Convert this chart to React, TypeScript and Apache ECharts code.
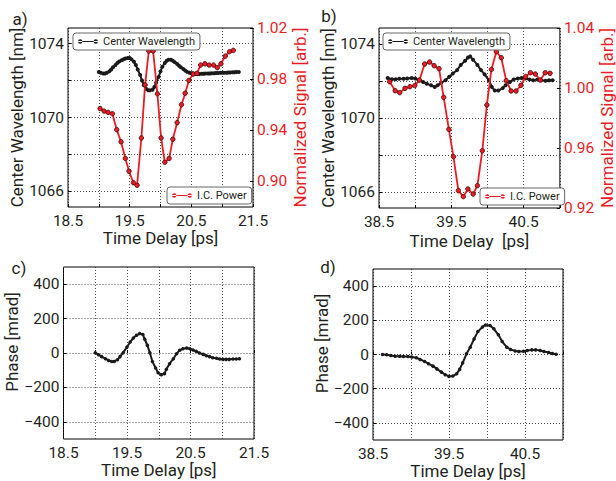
import React, { useEffect, useRef } from "react";
import * as echarts from "echarts";

const RED = "#ed1c24";
const INK = "#231f20";
const FONT = "Roboto";

// Panel a: center wavelength [nm] vs time delay [ps]
const wavelengthA: number[][] = [
  [19.0, 1072.47], [19.03, 1072.42], [19.07, 1072.38], [19.1, 1072.38], [19.13, 1072.42],
  [19.17, 1072.5], [19.2, 1072.6], [19.23, 1072.72], [19.27, 1072.85], [19.3, 1072.95],
  [19.33, 1073.03], [19.37, 1073.1], [19.4, 1073.15], [19.43, 1073.2], [19.47, 1073.22],
  [19.5, 1073.22], [19.53, 1073.15], [19.57, 1073.02], [19.6, 1072.85], [19.63, 1072.6],
  [19.67, 1072.3], [19.7, 1072.0], [19.73, 1071.75], [19.77, 1071.55], [19.8, 1071.48],
  [19.83, 1071.47], [19.87, 1071.5], [19.9, 1071.65], [19.93, 1071.9], [19.97, 1072.2],
  [20.0, 1072.5], [20.03, 1072.75], [20.07, 1072.95], [20.1, 1073.07], [20.13, 1073.13],
  [20.17, 1073.13], [20.2, 1073.08], [20.23, 1073.0], [20.27, 1072.9], [20.3, 1072.8],
  [20.33, 1072.72], [20.37, 1072.63], [20.4, 1072.55], [20.43, 1072.48], [20.47, 1072.43],
  [20.5, 1072.4], [20.53, 1072.38], [20.57, 1072.36], [20.6, 1072.35], [20.63, 1072.36],
  [20.67, 1072.37], [20.7, 1072.37], [20.73, 1072.38], [20.77, 1072.38], [20.8, 1072.39],
  [20.83, 1072.4], [20.87, 1072.4], [20.9, 1072.41], [20.93, 1072.41], [20.97, 1072.42],
  [21.0, 1072.42], [21.03, 1072.43], [21.07, 1072.43], [21.1, 1072.44], [21.13, 1072.44],
  [21.17, 1072.45], [21.2, 1072.45], [21.23, 1072.46], [21.27, 1072.46],
];

// Panel a: I.C. power, normalized signal [arb.]
const powerA: number[][] = [
  [19.02, 0.957], [19.085, 0.955], [19.15, 0.954], [19.22, 0.953], [19.29, 0.9405],
  [19.36, 0.931], [19.43, 0.918], [19.49, 0.908], [19.56, 0.899], [19.62, 0.897],
  [19.69, 0.934], [19.75, 0.9755], [19.81, 1.002], [19.88, 1.002], [19.95, 0.9685],
  [20.01, 0.934], [20.07, 0.915], [20.14, 0.918], [20.2, 0.933], [20.27, 0.946],
  [20.34, 0.96], [20.4, 0.969], [20.46, 0.979], [20.53, 0.984], [20.59, 0.9845],
  [20.65, 0.991], [20.72, 0.992], [20.79, 0.991], [20.86, 0.991], [20.92, 0.989],
  [20.98, 0.992], [21.05, 0.998], [21.12, 1.0015], [21.18, 1.0025],
];

// Panel b: center wavelength [nm]
const wavelengthB: number[][] = [
  [38.62, 1072.16], [38.68, 1072.09], [38.73, 1072.09], [38.78, 1072.11], [38.84, 1072.11],
  [38.89, 1072.13], [38.95, 1072.16], [39.0, 1072.13], [39.05, 1072.03], [39.11, 1071.94],
  [39.16, 1071.85], [39.22, 1071.76], [39.27, 1071.67], [39.31, 1071.76], [39.36, 1071.9],
  [39.42, 1072.03], [39.47, 1072.22], [39.52, 1072.4], [39.58, 1072.58], [39.63, 1072.86],
  [39.69, 1073.08], [39.73, 1073.26], [39.76, 1073.32], [39.8, 1073.14], [39.86, 1072.86],
  [39.91, 1072.58], [39.96, 1072.35], [40.02, 1072.03], [40.06, 1071.67], [40.1, 1071.48],
  [40.15, 1071.48], [40.21, 1071.61], [40.25, 1071.76], [40.31, 1071.94], [40.36, 1072.07],
  [40.42, 1072.13], [40.47, 1072.16], [40.52, 1072.13], [40.58, 1072.07], [40.63, 1072.03],
  [40.69, 1072.07], [40.74, 1072.03], [40.8, 1072.01], [40.85, 1072.03], [40.9, 1072.03],
];

// Panel b: I.C. power
const powerB: number[][] = [
  [38.647, 1.0042], [38.724, 0.9982], [38.787, 0.9969], [38.86, 0.9998], [38.928, 1.0009],
  [38.995, 1.0016], [39.059, 1.0053], [39.131, 1.016], [39.199, 1.0173], [39.262, 1.0149],
  [39.33, 1.0129], [39.394, 0.9938], [39.466, 0.9724], [39.529, 0.9542], [39.597, 0.9316],
  [39.665, 0.9276], [39.729, 0.9327], [39.801, 0.9293], [39.86, 0.9349], [39.928, 0.9582],
  [39.991, 0.9887], [40.054, 1.0124], [40.122, 1.0242], [40.19, 1.0202], [40.258, 1.0049],
  [40.326, 0.998], [40.394, 0.998], [40.462, 1.0018], [40.525, 1.0076], [40.593, 1.0102],
  [40.661, 1.0093], [40.729, 1.0053], [40.797, 1.0102], [40.864, 1.0098],
];

// Panel c: phase [mrad]
const phaseC: number[][] = [
  [19.0, 2], [19.05, -10], [19.1, -21], [19.16, -33], [19.21, -43], [19.26, -49],
  [19.3, -49], [19.35, -39], [19.39, -21], [19.44, 2], [19.5, 35], [19.55, 64],
  [19.6, 87], [19.65, 103], [19.7, 113], [19.75, 107], [19.78, 80], [19.82, 45],
  [19.86, 2], [19.9, -49], [19.95, -87], [19.99, -115], [20.04, -126], [20.09, -120],
  [20.12, -95], [20.17, -62], [20.23, -33], [20.28, -4], [20.33, 16], [20.38, 25],
  [20.44, 29], [20.49, 25], [20.54, 17], [20.59, 10], [20.64, 0], [20.7, -8],
  [20.75, -16], [20.8, -21], [20.85, -27], [20.91, -31], [20.96, -35], [21.01, -37],
  [21.06, -37], [21.11, -37], [21.17, -35], [21.22, -35], [21.27, -33],
];

// Panel d: phase [mrad]
const phaseD: number[][] = [
  [38.625, 0], [38.68, -2], [38.735, -6], [38.79, -10], [38.85, -10], [38.9, -12],
  [38.96, -12], [39.01, -14], [39.07, -19], [39.12, -29], [39.18, -41], [39.23, -54],
  [39.29, -68], [39.34, -84], [39.4, -103], [39.45, -118], [39.5, -128], [39.55, -126],
  [39.6, -113], [39.64, -87], [39.68, -49], [39.73, 4], [39.78, 43], [39.83, 91],
  [39.88, 134], [39.94, 161], [39.98, 173], [40.04, 169], [40.09, 150], [40.15, 115],
  [40.2, 76], [40.26, 43], [40.31, 29], [40.37, 21], [40.42, 17], [40.48, 19],
  [40.53, 23], [40.59, 27], [40.64, 27], [40.7, 23], [40.75, 17], [40.81, 12],
  [40.86, 6], [40.91, 2],
];

const waveTicks = [1066, 1068, 1070, 1072, 1074];
const waveLabels = [1066, 1070, 1074];
const signalTicksA = [0.9, 0.94, 0.98, 1.02];
const signalTicksB = [0.92, 0.96, 1.0, 1.04];
const phaseTicks = [-400, -200, 0, 200, 400];
const panelLetters = ["a)", "b)", "c)", "d)"];

const dotted = { color: "#222", type: [1, 2] as any, width: 0.8 };
const labelBase = { fontFamily: FONT, fontSize: 15.5, color: INK };
const nameBase = { fontFamily: FONT, fontSize: 17, color: INK };

const LEGEND_ICON =
  "path://M0 2.6h20v1.1h-20z M0 3.15a2.2 2.2 0 1 0 4.4 0a2.2 2.2 0 1 0 -4.4 0z M15.6 3.15a2.2 2.2 0 1 0 4.4 0a2.2 2.2 0 1 0 -4.4 0z";

function timeAxis(gridIndex: number, min: number, max: number, nameGap: number) {
  return {
    type: "value",
    gridIndex,
    min,
    max,
    interval: 0.5,
    axisLine: { show: false },
    axisTick: { show: true, inside: true, length: 3, lineStyle: { color: "#000" } },
    splitLine: { show: true, lineStyle: dotted },
    axisLabel: {
      ...labelBase,
      margin: 6,
      formatter: (v: number) => (Math.round(v * 2) % 2 === 1 ? v.toFixed(1) : ""),
    },
    name: gridIndex === 1 ? "Time Delay  [ps]" : "Time Delay [ps]",
    nameLocation: "middle",
    nameGap,
    nameTextStyle: nameBase,
  };
}

function waveAxis(gridIndex: number) {
  return {
    type: "value",
    gridIndex,
    position: "left",
    min: 1065.15,
    max: 1074.85,
    axisLine: { show: false },
    axisTick: { show: true, inside: true, length: 3, customValues: waveTicks, lineStyle: { color: "#000" } },
    splitLine: { show: true, lineStyle: dotted },
    axisLabel: {
      ...labelBase,
      margin: 4,
      customValues: waveLabels,
      formatter: (v: number) => String(Math.round(v)),
    },
    name: "Center Wavelength [nm]",
    nameLocation: "middle",
    nameGap: 41,
    nameTextStyle: nameBase,
  };
}

function signalAxis(gridIndex: number, min: number, max: number, ticks: number[], nameGap: number) {
  return {
    type: "value",
    gridIndex,
    position: "right",
    min,
    max,
    axisLine: { show: false },
    axisTick: { show: true, inside: true, length: 3, customValues: ticks, lineStyle: { color: "#000" } },
    splitLine: { show: false },
    axisLabel: {
      ...labelBase,
      color: RED,
      margin: 4,
      customValues: ticks,
      formatter: (v: number) => v.toFixed(2),
    },
    name: "Normalized Signal [arb.]",
    nameLocation: "middle",
    nameGap,
    nameTextStyle: { ...nameBase, color: RED },
  };
}

function phaseAxis(gridIndex: number) {
  return {
    type: "value",
    gridIndex,
    position: "left",
    min: -500,
    max: 500,
    axisLine: { show: false },
    axisTick: { show: true, inside: true, length: 3, customValues: phaseTicks, lineStyle: { color: "#000" } },
    splitLine: { show: true, lineStyle: dotted },
    axisLabel: {
      ...labelBase,
      margin: 4,
      customValues: phaseTicks,
      formatter: (v: number) => String(Math.round(v)).replace("-", "\u2212"),
    },
    name: "Phase [mrad]",
    nameLocation: "middle",
    nameGap: 40,
    nameTextStyle: { ...nameBase, padding: [0, 0, 0, 22] },
  };
}

function blackSeries(name: string, x: number, y: number, data: number[][]) {
  return {
    type: "line",
    name,
    xAxisIndex: x,
    yAxisIndex: y,
    data,
    symbol: "circle",
    symbolSize: 4,
    showSymbol: true,
    lineStyle: { color: "#1a1a1a", width: 2 },
    itemStyle: { color: "#1a1a1a" },
    z: 2,
  };
}

function redSeries(x: number, y: number, data: number[][]) {
  return {
    type: "line",
    name: "I.C. Power",
    xAxisIndex: x,
    yAxisIndex: y,
    data,
    symbol: "circle",
    symbolSize: 4.5,
    showSymbol: true,
    lineStyle: { color: RED, width: 1.8 },
    itemStyle: { color: RED, borderColor: "#3a0a0a", borderWidth: 0.8 },
    z: 3,
  };
}

function legendBox(name: string, left: number, top: number) {
  return {
    data: [name],
    left,
    top,
    orient: "horizontal",
    padding: [3, 5, 3, 5],
    itemWidth: 20,
    itemHeight: 6,
    itemGap: 5,
    icon: LEGEND_ICON,
    borderColor: "#666",
    borderWidth: 1,
    borderRadius: 3,
    backgroundColor: "#fff",
    selectedMode: false,
    itemStyle: { borderWidth: 0 },
    textStyle: { fontFamily: FONT, fontSize: 11, color: INK, padding: [0, 0, 0, 0] },
    z: 10,
  };
}

export default function App() {
  const ref = useRef<HTMLDivElement>(null);

  useEffect(() => {
    if (!ref.current) return;
    const chart = echarts.init(ref.current, null, { renderer: "svg" });
    const gridBase = { show: true, borderColor: "#000", borderWidth: 1, backgroundColor: "transparent", containLabel: false };
    const letterPos = [
      [20, 19],
      [329, 16],
      [19, 268],
      [328, 267],
    ];
    chart.setOption({
      animation: false,
      backgroundColor: "#fff",
      grid: [
        { ...gridBase, left: 68, top: 28, width: 185, height: 179 },
        { ...gridBase, left: 379, top: 28, width: 184, height: 180 },
        { ...gridBase, left: 63.5, top: 267, width: 190.5, height: 172 },
        { ...gridBase, left: 373, top: 269, width: 190, height: 171 },
      ],
      xAxis: [
        timeAxis(0, 18.5, 21.5, 22),
        timeAxis(1, 38.5, 41.0, 24),
        timeAxis(2, 18.5, 21.5, 20),
        timeAxis(3, 38.5, 41.0, 20),
      ],
      yAxis: [
        waveAxis(0),
        signalAxis(0, 0.88, 1.02, signalTicksA, 34),
        waveAxis(1),
        signalAxis(1, 0.92, 1.04, signalTicksB, 37),
        phaseAxis(2),
        phaseAxis(3),
      ],
      legend: [
        legendBox("Center Wavelength", 73, 33),
        legendBox("I.C. Power", 167, 187),
        legendBox("Center Wavelength", 383, 33),
        legendBox("I.C. Power", 480, 188),
      ],
      graphic: panelLetters.map((t, i) => ({
        type: "text",
        x: letterPos[i][0],
        y: letterPos[i][1],
        style: {
          text: t,
          fontFamily: FONT,
          fontSize: 17,
          fill: INK,
          textAlign: "center",
          textVerticalAlign: "middle",
        },
        z: 20,
      })),
      series: [
        blackSeries("Center Wavelength", 0, 0, wavelengthA),
        redSeries(0, 1, powerA),
        blackSeries("Center Wavelength", 1, 2, wavelengthB),
        redSeries(1, 3, powerB),
        { ...blackSeries("Phase c", 2, 4, phaseC), symbolSize: 3.5 },
        { ...blackSeries("Phase d", 3, 5, phaseD), symbolSize: 3.5 },
      ],
    });
    return () => chart.dispose();
  }, []);

  return (
    <div
      ref={ref}
      style={{ position: "absolute", left: 0, top: 0, width: 616, height: 481, background: "#fff" }}
    />
  );
}
